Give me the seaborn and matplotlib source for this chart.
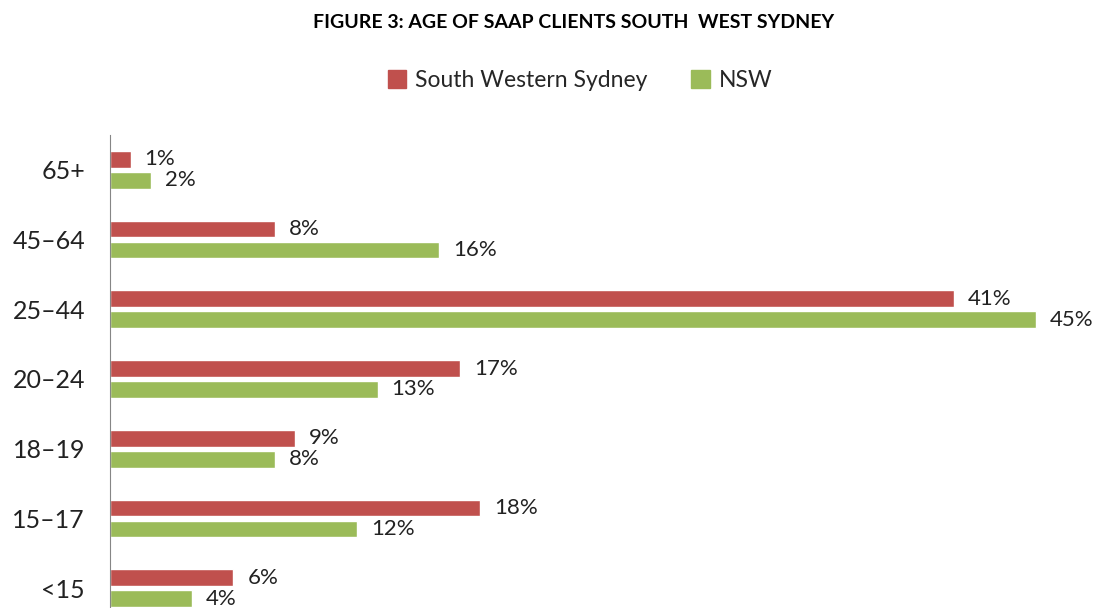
import pandas as pd
import matplotlib.pyplot as plt
import seaborn as sns
from matplotlib.patches import Patch

ages = ["65+", "45–64", "25–44", "20–24", "18–19", "15–17", "<15"]
sws = [1, 8, 41, 17, 9, 18, 6]
nsw = [2, 16, 45, 13, 8, 12, 4]
series = ["South Western Sydney", "NSW"]
colors = ["#C0504D", "#9BBB59"]

df = pd.DataFrame({
    "age": ages * 2,
    "pct": sws + nsw,
    "series": [series[0]] * len(ages) + [series[1]] * len(ages),
})

sns.set_style("white")
plt.rcParams["font.family"] = ["Lato", "DejaVu Sans"]

fig = plt.figure(figsize=(10.99, 6.08), dpi=100)
# axes run past the bottom/right edge like the cropped original
ax = fig.add_axes([110/1099, -15/608, 1029/1099, 488/608])
sns.barplot(data=df, y="age", x="pct", hue="series", order=ages, hue_order=series,
            palette=colors, width=0.6, gap=0.2, saturation=1, orient="h",
            legend=False, ax=ax)

for c in ax.containers:
    ax.bar_label(c, fmt="{:.0f}%", padding=10, fontsize=16, color="#222222")

ax.set_xlim(0, 50)
ax.set_ylim(6.5, -0.5)
for s in ["top", "right", "bottom"]:
    ax.spines[s].set_visible(False)
ax.spines["left"].set_color("#868686")
ax.set_xticks([])
ax.set_xlabel("")
ax.set_ylabel("")
ax.tick_params(axis="y", length=0, pad=18, labelsize=18, labelcolor="#222222")

fig.text(0.522, 0.963, "FIGURE 3: AGE OF SAAP CLIENTS SOUTH  WEST SYDNEY",
         ha="center", va="center", fontsize=14, fontweight="bold", color="black")
handles = [Patch(color=c, label=s) for s, c in zip(series, colors)]
fig.legend(handles=handles, loc="center", bbox_to_anchor=(0.528, 0.868), ncol=2,
           frameon=False, fontsize=16.5, handlelength=0.8, handleheight=0.8,
           handletextpad=0.4, columnspacing=1.9)

fig.savefig("out.png", dpi=100)
